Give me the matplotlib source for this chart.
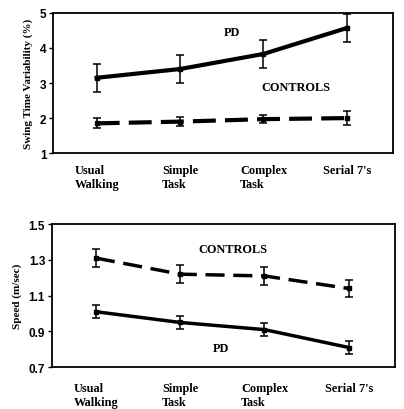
import matplotlib
matplotlib.use('Agg')
import matplotlib.pyplot as plt

# ---- Data ----
tasks = ['Usual\nWalking', 'Simple\nTask', 'Complex\nTask', "Serial 7's"]

swing_pd = [3.15, 3.40, 3.83, 4.57]
swing_pd_err = [0.40, 0.40, 0.40, 0.40]
swing_ctrl = [1.85, 1.90, 1.97, 2.00]
swing_ctrl_err = [0.14, 0.13, 0.11, 0.19]

speed_pd = [1.01, 0.95, 0.91, 0.81]
speed_pd_err = [0.037, 0.034, 0.035, 0.034]
speed_ctrl = [1.31, 1.22, 1.21, 1.14]
speed_ctrl_err = [0.05, 0.05, 0.05, 0.05]

# ---- Style ----
serif = 'Liberation Serif'
sans = 'Liberation Sans'
fs = 8.8
x = list(range(len(tasks)))

fig = plt.figure(figsize=(4.04, 4.10), dpi=100)
ax1 = fig.add_axes([0.132, 0.624, 0.840, 0.342])
ax2 = fig.add_axes([0.129, 0.102, 0.849, 0.349])


def plot_pair(ax, pd, pd_err, ctrl, ctrl_err, lw, dash):
    ax.errorbar(x, pd, yerr=pd_err, color='black', linewidth=lw,
                elinewidth=1.1, capsize=2.6, capthick=1.1,
                marker='s', markersize=3.5)
    ax.errorbar(x, ctrl, yerr=ctrl_err, color='black', linewidth=lw,
                linestyle=(0, dash), elinewidth=1.1, capsize=2.6,
                capthick=1.1, marker='s', markersize=3.5)


def style(ax, ylim, yticks, ylabel, tick_fmt, pad):
    ax.set_xlim(-0.52, 3.55)
    ax.set_ylim(*ylim)
    ax.set_yticks(yticks)
    ax.set_yticklabels([tick_fmt.format(t) for t in yticks],
                       fontfamily=sans, fontweight='bold', fontsize=8.5)
    ax.set_xticks(x)
    ax.set_xticklabels(tasks, fontfamily=serif, fontweight='bold',
                       fontsize=fs, multialignment='left')
    ax.tick_params(axis='x', length=0, pad=pad)
    ax.tick_params(axis='y', length=3, width=1.0, direction='out', pad=2)
    ax.set_ylabel(ylabel, fontfamily=serif, fontweight='bold', fontsize=8,
                  labelpad=5)
    for s in ax.spines.values():
        s.set_linewidth(1.3)


plot_pair(ax1, swing_pd, swing_pd_err, swing_ctrl, swing_ctrl_err,
          3.0, (5.5, 2.2))
style(ax1, (1, 5), [1, 2, 3, 4, 5], 'Swing Time Variability (%)', '{:g}', 8)
ax1.text(1.62, 4.45, 'PD', fontfamily=serif, fontweight='bold',
         fontsize=fs, ha='center', va='center')
ax1.text(2.39, 2.88, 'CONTROLS', fontfamily=serif, fontweight='bold',
         fontsize=fs, ha='center', va='center')

plot_pair(ax2, speed_pd, speed_pd_err, speed_ctrl, speed_ctrl_err,
          2.5, (5.5, 2.5))
style(ax2, (0.7, 1.5), [0.7, 0.9, 1.1, 1.3, 1.5], 'Speed (m/sec)', '{:.1f}', 11)
ax2.text(1.62, 1.36, 'CONTROLS', fontfamily=serif, fontweight='bold',
         fontsize=fs, ha='center', va='center')
ax2.text(1.48, 0.81, 'PD', fontfamily=serif, fontweight='bold',
         fontsize=fs, ha='center', va='center')

fig.savefig('out.png', dpi=100)
